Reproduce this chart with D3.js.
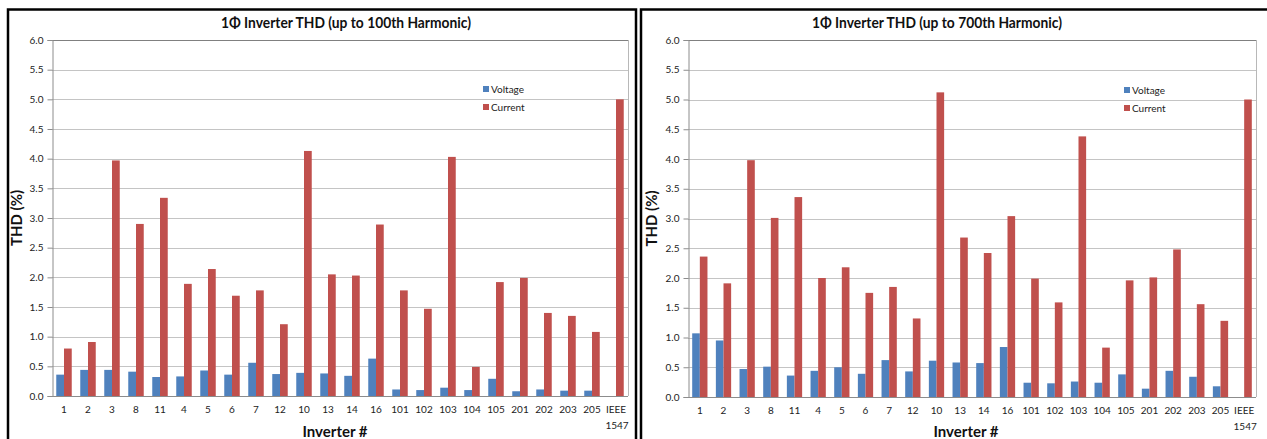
<!DOCTYPE html>
<html>
<head>
<meta charset="utf-8">
<script src="https://cdn.jsdelivr.net/npm/d3@7"></script>
<style>
  html, body { margin: 0; padding: 0; background: #fff; }
  svg { display: block; }
  text { font-family: Lato, "Open Sans", "Liberation Sans", sans-serif; }
</style>
</head>
<body>
<svg id="chart" width="1267" height="439"></svg>
<script>
// Inverter identifiers along the x axis (last one is the IEEE 1547 limit)
const inverters = ["1","2","3","8","11","4","5","6","7","12","10","13","14","16",
  "101","102","103","104","105","201","202","203","205","IEEE 1547"];

// THD (%) measured up to the 100th harmonic
const voltage100 = [0.36,0.44,0.44,0.41,0.32,0.33,0.43,0.36,0.56,0.37,0.39,0.38,0.34,0.63,
  0.11,0.10,0.14,0.10,0.29,0.08,0.11,0.09,0.09,null];
const current100 = [0.80,0.91,3.97,2.90,3.34,1.89,2.14,1.69,1.78,1.21,4.13,2.05,2.03,2.89,
  1.78,1.47,4.03,0.49,1.92,1.99,1.40,1.35,1.08,5.0];

// THD (%) measured up to the 700th harmonic
const voltage700 = [1.07,0.95,0.47,0.51,0.36,0.44,0.50,0.39,0.62,0.43,0.61,0.58,0.57,0.84,
  0.24,0.23,0.26,0.24,0.38,0.14,0.44,0.34,0.18,null];
const current700 = [2.36,1.91,3.98,3.01,3.36,2.00,2.18,1.75,1.85,1.32,5.12,2.68,2.42,3.04,
  1.99,1.59,4.38,0.83,1.96,2.01,2.48,1.56,1.28,5.0];

const yTicks = d3.range(0, 6.01, 0.5);
const seriesNames = ["Voltage", "Current"];
const colors = { Voltage: "#4F81BD", Current: "#C0504D" };

const svg = d3.select("#chart");

function drawPanel(p) {
  const g = svg.append("g");

  // outer frame of the panel
  g.append("rect")
    .attr("x", p.frame[0]).attr("y", p.frame[1])
    .attr("width", p.frame[2]).attr("height", p.frame[3])
    .attr("fill", "#fff").attr("stroke", "#000").attr("stroke-width", 2.5);

  const x = d3.scaleBand().domain(inverters).range([p.left, p.right]);
  const y = d3.scaleLinear().domain([0, 6]).range([p.bottom, p.top]);
  const inner = d3.scaleBand().domain(seriesNames)
    .range([0, x.bandwidth()]).paddingInner(0).paddingOuter(0.55);

  // horizontal gridlines
  g.append("g").selectAll("line").data(yTicks.slice(1)).join("line")
    .attr("x1", p.left).attr("x2", p.right)
    .attr("y1", d => Math.round(y(d)) + 0.5).attr("y2", d => Math.round(y(d)) + 0.5)
    .attr("stroke", d => d === 6 ? "#808080" : "#c4c4c4").attr("stroke-width", 1);

  // right edge of plot area
  g.append("line")
    .attr("x1", p.right + 0.5).attr("x2", p.right + 0.5)
    .attr("y1", y(6)).attr("y2", y(0))
    .attr("stroke", "#b8b8b8");

  // y axis
  const yAxis = g.append("g")
    .attr("transform", `translate(${p.left + 0.5},0)`)
    .call(d3.axisLeft(y).tickValues(yTicks).tickFormat(d3.format(".1f")).tickSize(5).tickPadding(4));
  yAxis.select(".domain").attr("stroke", "#8c8c8c");
  yAxis.selectAll(".tick line").attr("stroke", "#8c8c8c");
  yAxis.selectAll("text").attr("font-size", 10).attr("fill", "#222");

  // bars
  const rows = inverters.map((name, i) => ({ name, Voltage: p.voltage[i], Current: p.current[i] }));
  const grp = g.append("g").selectAll("g").data(rows).join("g")
    .attr("transform", d => `translate(${x(d.name)},0)`);
  grp.selectAll("rect")
    .data(d => seriesNames.filter(s => d[s] != null).map(s => ({ s, v: d[s] })))
    .join("rect")
    .attr("x", d => inner(d.s))
    .attr("width", inner.bandwidth())
    .attr("y", d => y(d.v))
    .attr("height", d => y(0) - y(d.v))
    .attr("fill", d => colors[d.s]);

  // x axis baseline
  g.append("line")
    .attr("x1", p.left).attr("x2", p.right)
    .attr("y1", Math.round(y(0)) + 0.5).attr("y2", Math.round(y(0)) + 0.5)
    .attr("stroke", "#8c8c8c");

  // x tick labels (IEEE 1547 wraps onto two lines)
  const xl = g.append("g").selectAll("text").data(inverters).join("text")
    .attr("x", d => x(d) + x.bandwidth() / 2)
    .attr("y", y(0) + 17)
    .attr("text-anchor", "middle")
    .attr("font-size", 10)
    .attr("fill", "#222");
  xl.each(function(d) {
    const parts = d.split(" ");
    const t = d3.select(this);
    parts.forEach((s, k) => {
      t.append("tspan").attr("x", x(d) + x.bandwidth() / 2 + (k ? 1 : 0))
        .attr("dy", k ? 16 : 0).text(s);
    });
  });

  // titles
  g.append("text")
    .attr("x", p.titleX).attr("y", 28)
    .attr("text-anchor", "middle")
    .attr("font-size", 16).attr("font-weight", "bold").attr("fill", "#111")
    .attr("textLength", 250).attr("lengthAdjust", "spacingAndGlyphs")
    .text(p.title);

  g.append("text")
    .attr("transform", `translate(${p.yTitleX},${(y(0) + y(6)) / 2}) rotate(-90)`)
    .attr("text-anchor", "middle")
    .attr("font-size", 15).attr("font-weight", "bold").attr("fill", "#111")
    .text("THD (%)");

  g.append("text")
    .attr("x", p.xTitleX).attr("y", 437)
    .attr("text-anchor", "middle")
    .attr("font-size", 15).attr("font-weight", "bold").attr("fill", "#111")
    .text("Inverter #");

  // legend
  const lg = g.append("g").attr("transform", `translate(${p.legend[0]},${p.legend[1]})`);
  seriesNames.forEach((s, k) => {
    lg.append("rect").attr("x", 0).attr("y", k * 18 - 3).attr("width", 6).attr("height", 6)
      .attr("fill", colors[s]);
    lg.append("text").attr("x", 8).attr("y", k * 18 + 3.5)
      .attr("font-size", 10).attr("fill", "#222").text(s);
  });
}

drawPanel({
  frame: [8, 9.5, 628, 440],
  left: 52, right: 628, top: 40, bottom: 396,
  voltage: voltage100, current: current100,
  title: "1Φ Inverter THD (up to 100th Harmonic)",
  titleX: 346, yTitleX: 22, xTitleX: 335,
  legend: [483, 89]
});

drawPanel({
  frame: [641, 9.5, 640, 440],
  left: 688, right: 1256, top: 40, bottom: 397,
  voltage: voltage700, current: current700,
  title: "1Φ Inverter THD (up to 700th Harmonic)",
  titleX: 937, yTitleX: 657, xTitleX: 966,
  legend: [1124, 90]
});
</script>
</body>
</html>
